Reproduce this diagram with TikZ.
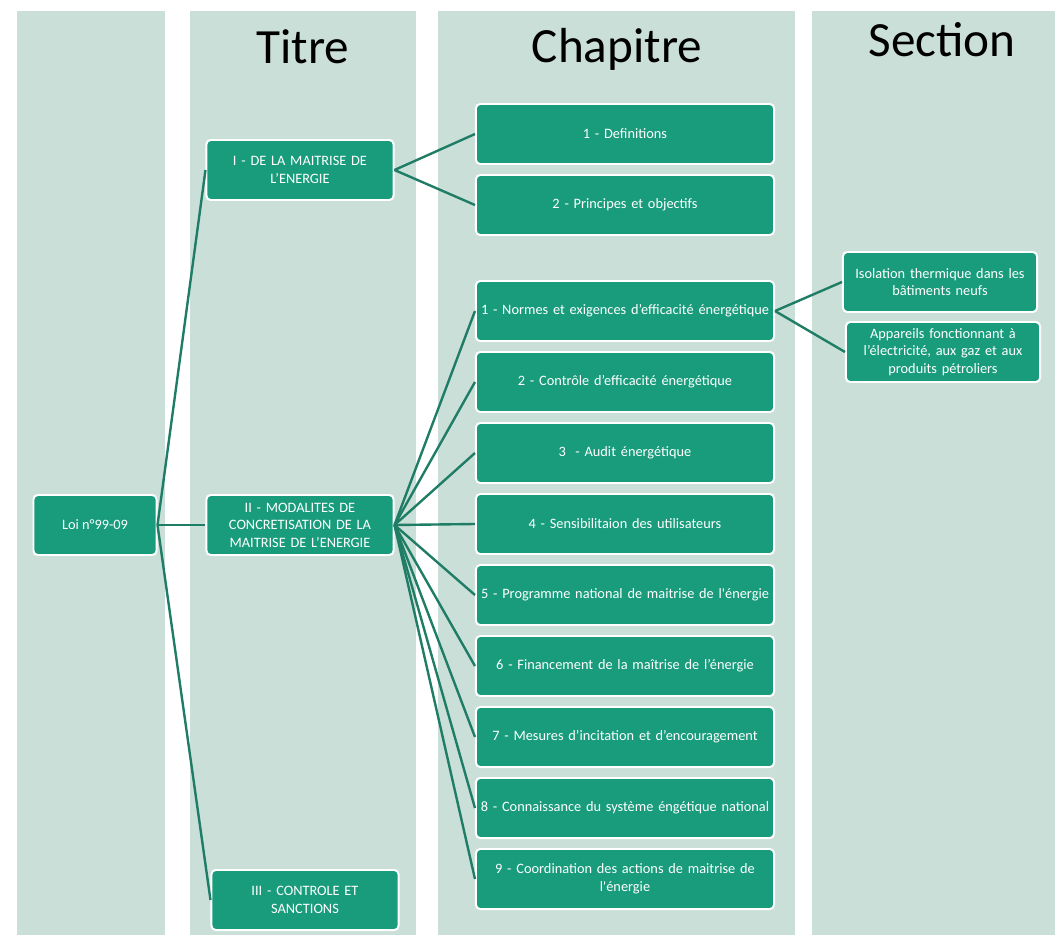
\documentclass[tikz,border=0pt]{standalone}
\usepackage{fontspec}
\setmainfont{Carlito}
\usetikzlibrary{positioning}
\definecolor{loiGreen}{RGB}{24,156,124}
\definecolor{loiLine}{RGB}{30,125,100}
\definecolor{loiBand}{RGB}{203,223,217}

\begin{document}
\begin{tikzpicture}[x=0.025cm, y=-0.025cm,
    band/.style={fill=loiBand, draw=none},
    head/.style={font=\fontsize{35}{40}\selectfont, anchor=base},
    box/.style={draw=white, line width=1.4pt, fill=loiGreen, rounded corners=3pt, text=white, align=center, font=\fontsize{10.2}{12.5}\selectfont, minimum height=1.5cm, inner sep=2pt},
    titrebox/.style={box, minimum width=4.675cm, text width=4.4cm},
    chapbox/.style={box, minimum width=7.45cm, text width=7.3cm},
    secbox/.style={box, minimum width=4.85cm, text width=4.6cm},
    link/.style={draw=loiLine, line width=1.7pt}]
    \useasboundingbox (0,0) rectangle (1055,935);

    % columns
    \fill[band] (17,11) rectangle (165,935);
    \fill[band] (190,11) rectangle (416,935);
    \fill[band] (438,11) rectangle (795,935);
    \fill[band] (812,11) rectangle (1055,935);

    \node[head] (hTitre) at (303,63) {Titre};
    \node[head] (hChapitre) at (617,62) {Chapitre};
    \node[head] (hSection) at (942,56) {Section};

    % loi and titres
    \node[box, minimum width=3.075cm] (loi) at (95,525) {Loi n°99-09};
    \node[titrebox] (t1) at (300,170) {I - DE LA MAITRISE DE\\L’ENERGIE};
    \node[titrebox] (t2) at (300,525) {II - MODALITES DE\\CONCRETISATION DE LA\\MAITRISE DE L’ENERGIE};
    \node[titrebox] (t3) at (305,900) {III - CONTROLE ET\\SANCTIONS};

    % chapitres
    \node[chapbox] (c11) at (625,134) {1 - Definitions};
    \node[chapbox] (c12) at (625,205) {2 - Principes et objectifs};
    \foreach \i/\txt in {1/{1 - Normes et exigences d’efficacité énergétique},
        2/{2 - Contrôle d’efficacité énergétique},
        3/{3 \ - Audit énergétique},
        4/{4 - Sensibilitaion des utilisateurs},
        5/{5 - Programme national de maitrise de l\textquotesingle énergie},
        6/{6 - Financement de la maîtrise de l’énergie},
        7/{7 - Mesures d’incitation et d’encouragement},
        8/{8 - Connaissance du système éngétique national},
        9/{9 - Coordination des actions de maitrise de\\l\textquotesingle énergie}}
        \node[chapbox] (c2\i) at (625,{311+71*(\i-1)}) {\txt};

    % sections
    \node[secbox] (s1) at (940,282) {Isolation thermique dans les\\bâtiments neufs};
    \node[secbox] (s2) at (943,352) {Appareils fonctionnant à\\l’électricité, aux gaz et aux\\produits pétroliers};

    % liens
    \foreach \t in {t1,t2,t3}
        \draw[link] (loi.east) -- (\t.west);
    \foreach \c in {c11,c12}
        \draw[link] (t1.east) -- (\c.west);
    \foreach \i in {1,...,9}
        \draw[link] (t2.east) -- (c2\i.west);
    \foreach \s in {s1,s2}
        \draw[link] (c21.east) -- (\s.west);
\end{tikzpicture}
\end{document}
